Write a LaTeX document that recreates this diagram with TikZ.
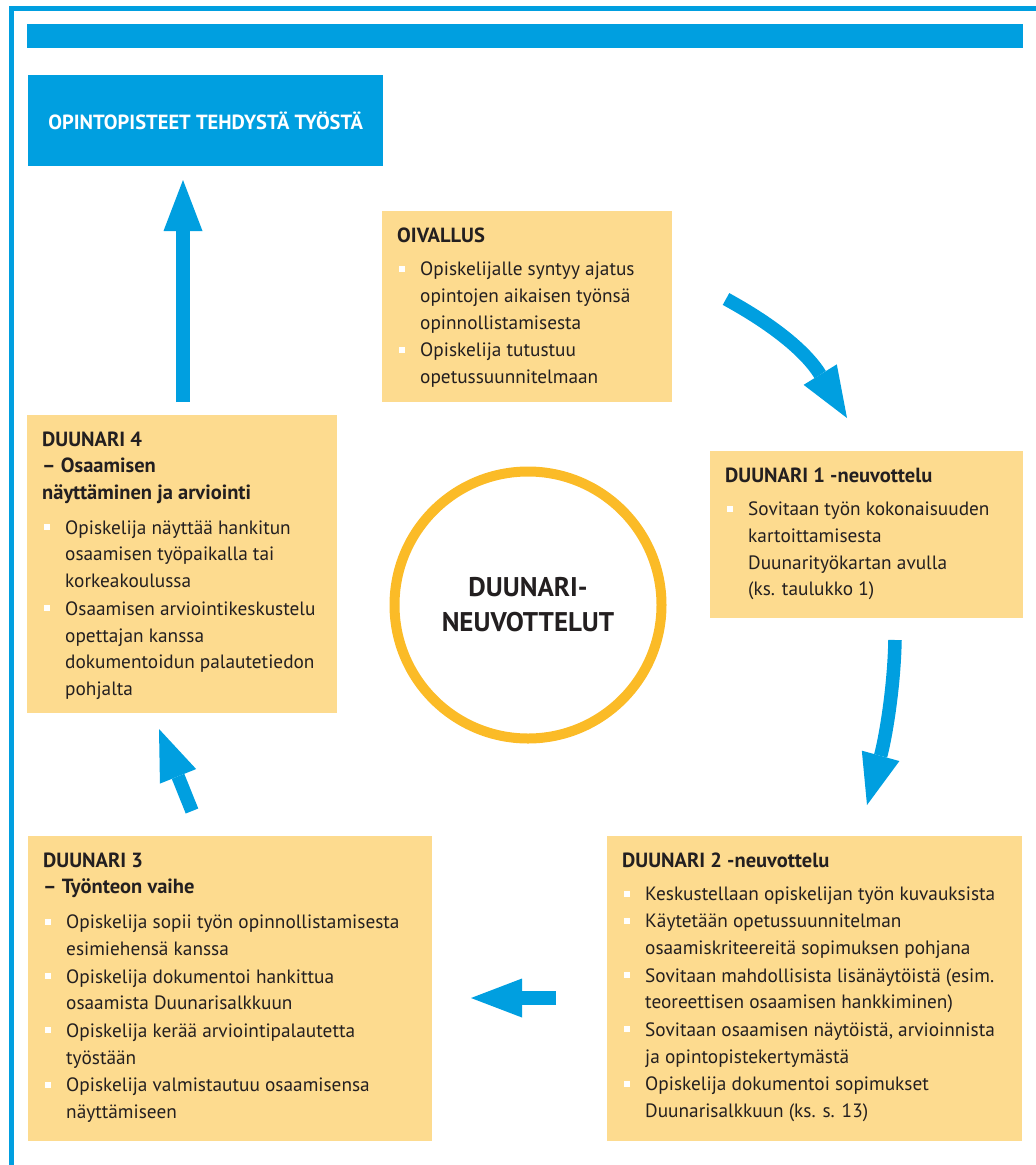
\documentclass[tikz,border=0pt]{standalone}
\usepackage{fontspec}
\setmainfont{PT Sans}
\usepackage{array}
\usetikzlibrary{arrows.meta}
\usetikzlibrary{positioning}

\definecolor{flowblue}{RGB}{0,159,224}
\definecolor{stagefill}{RGB}{253,219,143}
\definecolor{hubring}{RGB}{251,187,39}
\definecolor{textdark}{RGB}{35,31,32}

\newcommand\stagefont{\fontsize{19.3}{26.7}\selectfont}
\newcommand\headfont{\fontsize{20.5}{26.7}\selectfont\bfseries}
\newcommand\stagehead[1]{\noindent\begin{tabular}[t]{@{}>{\headfont}l@{}}#1\end{tabular}\par\vspace{7pt}}
\newcommand\bpoint[1]{\par\noindent\makebox[23pt][l]{\hspace{2pt}\textcolor{white}{\rule[4pt]{6pt}{6pt}}}\begin{tabular}[t]{@{}l@{}}#1\end{tabular}}
\newcommand\stagetext[3]{\begin{minipage}[c][#2][t]{#1}\vspace*{12.3pt}#3\end{minipage}}

\tikzset{
    frameline/.style={draw=flowblue, line width=5.5pt},
    stage/.style={fill=stagefill, anchor=north west, inner xsep=15pt, inner ysep=0pt,
        text=textdark, font=\stagefont},
    titlebox/.style={fill=flowblue, anchor=north west, inner sep=0pt, text=white,
        font=\fontsize{20.5}{24}\selectfont\bfseries},
    hub/.style={circle, draw=hubring, line width=10pt, minimum size=267pt, inner sep=0pt,
        align=center, text=textdark, font=\fontsize{27}{35}\selectfont\bfseries},
    flow/.style={draw=flowblue, line width=13.5pt,
        -{Triangle[length=51pt,width=39pt,line width=0pt]}},
}

\begin{document}
\begin{tikzpicture}[x=1pt, y=-1pt]
	\useasboundingbox (0,0) rectangle (1036,1165);
	\draw[frameline] (11.5,1165)--(11.5,8.5)--(1036,8.5);
	\fill[flowblue] (27,24) rectangle (1023,47.5);
%
	\node[titlebox, minimum width=355pt, minimum height=91pt] (credits) at (28,75) {OPINTOPISTEET TEHDYSTÄ TYÖSTÄ};
	\node[stage] (oiv) at (382,211) {\stagetext{260pt}{191pt}{%
		\stagehead{OIVALLUS}%
		\bpoint{Opiskelijalle syntyy ajatus\\opintojen aikaisen työnsä\\opinnollistamisesta}%
		\bpoint{Opiskelija tutustuu\\opetussuunnitelmaan}}};
	\node[stage] (d1) at (710,451) {\stagetext{283pt}{167pt}{%
		\stagehead{DUUNARI 1 -neuvottelu}%
		\bpoint{Sovitaan työn kokonaisuuden\\kartoittamisesta\\Duunarityökartan avulla\\(ks. taulukko 1)}}};
	\node[stage] (d2) at (607,836) {\stagetext{385pt}{305pt}{%
		\stagehead{DUUNARI 2 -neuvottelu}%
		\bpoint{Keskustellaan opiskelijan työn kuvauksista}%
		\bpoint{Käytetään opetussuunnitelman\\osaamiskriteereitä sopimuksen pohjana}%
		\bpoint{Sovitaan mahdollisista lisänäytöistä (esim.\\teoreettisen osaamisen hankkiminen)}%
		\bpoint{Sovitaan osaamisen näytöistä, arvioinnista\\ja opintopistekertymästä}%
		\bpoint{Opiskelija dokumentoi sopimukset\\Duunarisalkkuun (ks. s. 13)}}};
	\node[stage] (d3) at (28,836) {\stagetext{374pt}{305pt}{%
		\stagehead{DUUNARI 3\\– Työnteon vaihe}%
		\bpoint{Opiskelija sopii työn opinnollistamisesta\\esimiehensä kanssa}%
		\bpoint{Opiskelija dokumentoi hankittua\\osaamista Duunarisalkkuun}%
		\bpoint{Opiskelija kerää arviointipalautetta\\työstään}%
		\bpoint{Opiskelija valmistautuu osaamisensa\\näyttämiseen}}};
	\node[stage] (d4) at (27,415) {\stagetext{280pt}{298pt}{%
		\stagehead{DUUNARI 4\\– Osaamisen\\näyttäminen ja arviointi}%
		\bpoint{Opiskelija näyttää hankitun\\osaamisen työpaikalla tai\\korkeakoulussa}%
		\bpoint{Osaamisen arviointikeskustelu\\opettajan kanssa\\dokumentoidun palautetiedon\\pohjalta}}};
	\node[hub] (hub) at (528,605) {DUUNARI-\\NEUVOTTELUT};
%
	\coordinate (oiv-out) at (726,299);
	\coordinate (d1-in) at (847,418);
	\coordinate (d1-out) at (895,640);
	\coordinate (d2-in) at (867,805);
	\coordinate (d2-out) at (556,998);
	\coordinate (d3-in) at (471,998);
	\coordinate (d3-out) at (192,811);
	\coordinate (d4-in) at (159,729);
	\coordinate (d4-out) at (183,402);
	\coordinate (credits-in) at (183,180);
	\draw[flow] (oiv-out) .. controls (770,323) and (805,350) .. (d1-in);
	\draw[flow] (d1-out) .. controls (894,690) and (885,740) .. (d2-in);
	\draw[flow] (d2-out)--(d3-in);
	\draw[flow] (d3-out)--(d4-in);
	\draw[flow] (d4-out)--(credits-in);
\end{tikzpicture}
\end{document}
